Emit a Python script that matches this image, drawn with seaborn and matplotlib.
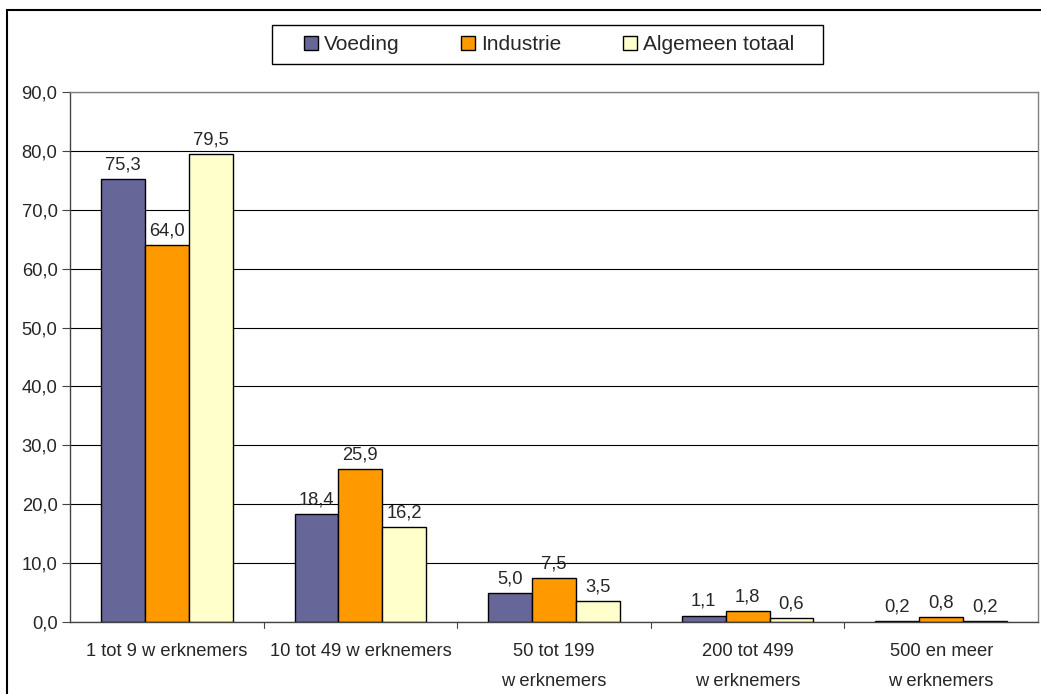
import matplotlib
matplotlib.use("Agg")
import matplotlib.pyplot as plt
import seaborn as sns
import pandas as pd
from matplotlib.patches import Rectangle

categories = ["1 tot 9 w erknemers", "10 tot 49 w erknemers", "50 tot 199\nw erknemers",
              "200 tot 499\nw erknemers", "500 en meer\nw erknemers"]
series = ["Voeding", "Industrie", "Algemeen totaal"]
voeding = [75.3, 18.4, 5.0, 1.1, 0.2]
industrie = [64.0, 25.9, 7.5, 1.8, 0.8]
algemeen = [79.5, 16.2, 3.5, 0.6, 0.2]
colors = ["#666699", "#FF9900", "#FFFFCC"]
yticks = [0, 10, 20, 30, 40, 50, 60, 70, 80, 90]

rows = []
for s, vals in zip(series, [voeding, industrie, algemeen]):
    for c, v in zip(categories, vals):
        rows.append({"cat": c, "serie": s, "val": v})
df = pd.DataFrame(rows)

sns.set_style("white")
plt.rcParams["font.family"] = ["Liberation Sans", "DejaVu Sans"]

W, H = 1041, 694
FS = 13.2
fig = plt.figure(figsize=(10.41, 6.94), dpi=100)
ax = fig.add_axes([70/W, 1-622/H, 968/W, 530/H])

sns.barplot(data=df, x="cat", y="val", hue="serie", palette=colors, ax=ax,
            width=0.68, gap=0, edgecolor="black", linewidth=1.0, saturation=1,
            legend=False)

ax.set_ylim(0, 90)
ax.set_xlim(-0.5, 4.5)
ax.set_yticks(yticks)
ax.set_yticklabels([f"{t:.1f}".replace(".", ",") for t in yticks], fontsize=FS)
ax.yaxis.grid(True, color="black", linewidth=0.8)
ax.set_axisbelow(True)
ax.set_xlabel("")
ax.set_ylabel("")
ax.set_xticks(range(5))
ax.set_xticklabels(categories, fontsize=FS, linespacing=2.0)
ax.tick_params(axis="x", length=0, pad=15)
ax.tick_params(axis="y", length=6, color="#444444", left=True, pad=3)
for b in [0.5, 1.5, 2.5, 3.5]:
    ax.plot([b, b], [0, -1.0], color="#444444", lw=0.8, clip_on=False)

for sp in ["top", "right"]:
    ax.spines[sp].set_color("#808080")
    ax.spines[sp].set_linewidth(1.0)
for sp in ["left", "bottom"]:
    ax.spines[sp].set_color("#444444")
    ax.spines[sp].set_linewidth(1.0)

for cont in ax.containers:
    ax.bar_label(cont, labels=[f"{v:.1f}".replace(".", ",") for v in cont.datavalues],
                 padding=4, fontsize=FS)

# legend (frame drawn separately)
handles = [Rectangle((0, 0), 1, 1, facecolor=c, edgecolor="black", linewidth=1.0) for c in colors]
leg = fig.legend(handles, series, loc="center", bbox_to_anchor=(549/W, 1-44.5/H),
                 ncol=3, fontsize=15, frameon=False,
                 handlelength=0.67, handleheight=0.67, handletextpad=0.29, columnspacing=2.95,
                 borderpad=0, borderaxespad=0)
fig.add_artist(Rectangle((272/W, 1-64/H), 551/W, 39/H, transform=fig.transFigure,
                         fill=False, edgecolor="black", linewidth=1.0))

# outer chart frame
fig.add_artist(Rectangle((7/W, -0.1), 1.2, 1 - 10/H + 0.1, transform=fig.transFigure,
                         fill=False, edgecolor="black", linewidth=1.5))

fig.savefig("out.png", dpi=100)
